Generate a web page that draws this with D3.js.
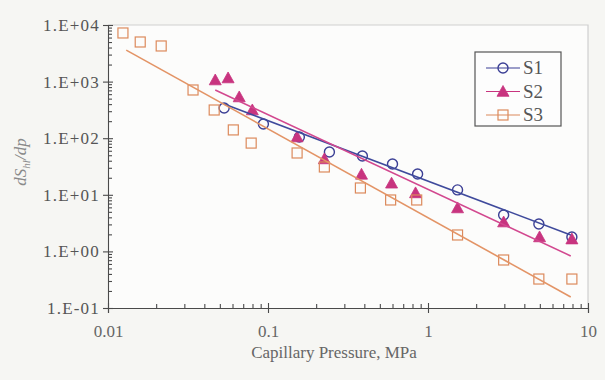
<!DOCTYPE html>
<html>
<head>
<meta charset="utf-8">
<script src="https://cdn.jsdelivr.net/npm/d3@7"></script>
<style>
    body { margin: 0; background: #f6f6f3; }
    svg text { font-family: "Liberation Serif", "DejaVu Serif", serif; }
</style>
</head>
<body>
<script>
// series values (pressure in MPa, dS/dp)
const seriesNames = ["S1", "S2", "S3"];
const s1Pressure = [0.0532, 0.0936, 0.157, 0.242, 0.389, 0.600, 0.861, 1.53, 2.97, 4.93, 7.93];
const s1Value = [342, 178, 105, 57, 48.5, 35, 23.3, 12.2, 4.4, 3.05, 1.8];
const s2Pressure = [0.0468, 0.0563, 0.0661, 0.0798, 0.152, 0.225, 0.384, 0.592, 0.836, 1.53, 2.97, 4.98, 7.93];
const s2Value = [1067, 1158, 535, 315, 105, 43, 23, 16, 10.8, 5.85, 3.3, 1.8, 1.65];
const s3Pressure = [0.0124, 0.0159, 0.0215, 0.0340, 0.0461, 0.0607, 0.0785, 0.152, 0.225, 0.378, 0.584, 0.850, 1.53, 2.97, 4.93, 7.93];
const s3Value = [7230, 5010, 4260, 711, 315, 140, 82, 54.8, 31, 13.2, 8.1, 8.1, 1.95, 0.705, 0.325, 0.325];

// power-law trend lines y = a * x^b
const trendCoef = [17.5, 12.5, 3.94];
const trendExp = [-1.068, -1.319, -1.570];
const trendFrom = [0.0532, 0.0468, 0.013];
const trendTo = [7.8, 7.8, 7.8];

const xTicks = [0.01, 0.1, 1, 10];
const xTickLabels = ["0.01", "0.1", "1", "10"];
const yTicks = [0.1, 1, 10, 100, 1000, 10000];
const yTickLabels = ["1.E-01", "1.E+00", "1.E+01", "1.E+02", "1.E+03", "1.E+04"];

const chart = {
    width: 605,
    height: 380,
    left: 108,
    right: 588,
    top: 25,
    bottom: 308,
    colors: ["#3b3f95", "#c8347f", "#dc8a5c"],
    lineColors: ["#3f4a9c", "#d2488f", "#e39466"]
};

const svg = d3.select("body").append("svg")
    .attr("width", chart.width)
    .attr("height", chart.height);

const x = d3.scaleLog().domain([0.01, 10]).range([chart.left, chart.right]);
const y = d3.scaleLog().domain([0.1, 10000]).range([chart.bottom, chart.top]);

// plot area
svg.append("rect")
    .attr("x", chart.left).attr("y", chart.top)
    .attr("width", chart.right - chart.left).attr("height", chart.bottom - chart.top)
    .attr("fill", "#fcfcfb");
svg.append("path")
    .attr("d", `M${chart.left},${chart.top}H${chart.right}V${chart.bottom}`)
    .attr("fill", "none").attr("stroke", "#cfcfcf").attr("stroke-width", 1.2);

const minorTicks = (lo, hi) => {
    const out = [];
    for (let e = lo; e < hi; e++) {
        for (let k = 2; k <= 9; k++) out.push(k * Math.pow(10, e));
    }
    return out;
};

// y axis
const yAxis = svg.append("g").attr("transform", `translate(${chart.left},0)`);
yAxis.call(d3.axisLeft(y).tickValues(yTicks).tickSize(5).tickPadding(3)
    .tickFormat((d, i) => yTickLabels[i]));
yAxis.append("g").call(d3.axisLeft(y).tickValues(yTicks).tickSize(-5).tickFormat(""))
    .select(".domain").remove();
yAxis.append("g").call(d3.axisLeft(y).tickValues(minorTicks(-1, 4)).tickSize(-4).tickFormat(""))
    .select(".domain").remove();

// x axis
const xAxis = svg.append("g").attr("transform", `translate(0,${chart.bottom})`);
xAxis.call(d3.axisBottom(x).tickValues(xTicks).tickSize(5).tickPadding(12)
    .tickFormat((d, i) => xTickLabels[i]));
xAxis.append("g").call(d3.axisBottom(x).tickValues(xTicks).tickSize(-5).tickFormat(""))
    .select(".domain").remove();
xAxis.append("g").call(d3.axisBottom(x).tickValues(minorTicks(-2, 1)).tickSize(-4).tickFormat(""))
    .select(".domain").remove();

svg.selectAll(".domain, .tick line").attr("stroke", "#4a4a4a").attr("stroke-width", 1.1);
yAxis.selectAll(".tick text").attr("font-size", 17).attr("fill", "#555")
    .attr("letter-spacing", 1.2);
xAxis.selectAll(".tick text").attr("font-size", 17).attr("fill", "#666");

// axis titles
svg.append("text")
    .attr("x", 334).attr("y", 358)
    .attr("text-anchor", "middle")
    .attr("font-size", 17).attr("fill", "#666")
    .text("Capillary Pressure, MPa");

const yTitle = svg.append("text")
    .attr("transform", "translate(26,162) rotate(-90)")
    .attr("text-anchor", "middle")
    .attr("font-size", 17).attr("font-style", "italic").attr("fill", "#8a8a8a");
yTitle.append("tspan").text("dS");
yTitle.append("tspan").attr("font-size", 11).attr("dy", 4).text("hl");
yTitle.append("tspan").attr("dy", -4).text("/dp");

const series = [
    { p: s1Pressure, v: s1Value },
    { p: s2Pressure, v: s2Value },
    { p: s3Pressure, v: s3Value }
];

const drawMarker = (g, i, cx, cy) => {
    if (i === 0) {
        g.append("circle").attr("cx", cx).attr("cy", cy).attr("r", 5)
            .attr("fill", "none").attr("stroke", chart.colors[0]).attr("stroke-width", 1.4);
    } else if (i === 1) {
        const s = 6;
        g.append("path")
            .attr("d", `M${cx},${cy - s}L${cx + s},${cy + s * 0.8}L${cx - s},${cy + s * 0.8}Z`)
            .attr("fill", chart.colors[1]).attr("stroke", chart.colors[1]).attr("stroke-width", 0.8);
    } else {
        g.append("rect").attr("x", cx - 5).attr("y", cy - 5).attr("width", 10).attr("height", 10)
            .attr("fill", "none").attr("stroke", chart.colors[2]).attr("stroke-width", 1.2);
    }
};

// markers
series.forEach((s, i) => {
    const g = svg.append("g");
    s.p.forEach((p, j) => drawMarker(g, i, x(p), y(s.v[j])));
});

// trend lines
series.forEach((s, i) => {
    const ends = [trendFrom[i], trendTo[i]];
    svg.append("line")
        .attr("x1", x(ends[0])).attr("y1", y(trendCoef[i] * Math.pow(ends[0], trendExp[i])))
        .attr("x2", x(ends[1])).attr("y2", y(trendCoef[i] * Math.pow(ends[1], trendExp[i])))
        .attr("stroke", chart.lineColors[i]).attr("stroke-width", 1.6);
});

// legend
const legend = svg.append("g").attr("transform", "translate(475,52)");
legend.append("rect").attr("width", 86).attr("height", 74)
    .attr("fill", "#fdfdfd").attr("stroke", "#555").attr("stroke-width", 1.2);
seriesNames.forEach((name, i) => {
    const ly = 16 + i * 23.5;
    legend.append("line").attr("x1", 11).attr("x2", 45).attr("y1", ly).attr("y2", ly)
        .attr("stroke", chart.colors[i]).attr("stroke-width", 1.2);
    drawMarker(legend, i, 28, ly);
    legend.append("text").attr("x", 48).attr("y", ly + 6)
        .attr("font-size", 19).attr("fill", "#555").text(name);
});
</script>
</body>
</html>
